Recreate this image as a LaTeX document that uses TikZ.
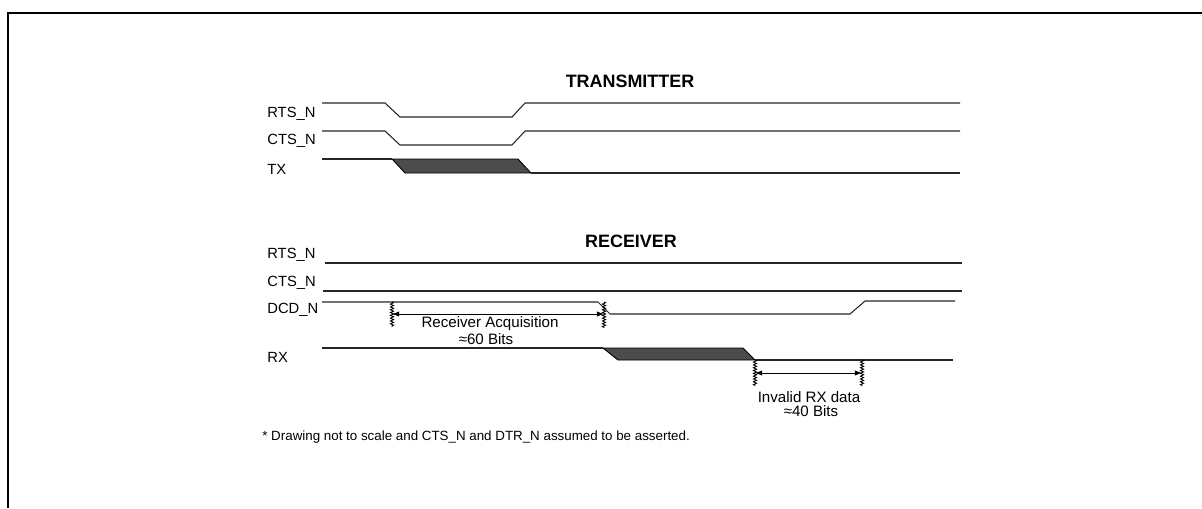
\documentclass[tikz,border=0pt]{standalone}
\usepackage{fontspec}
\setmainfont{Liberation Sans}
\usepackage{tikz}
\usetikzlibrary{arrows.meta,decorations.pathmorphing}

\begin{document}
\begin{tikzpicture}[x=0.02cm,y=-0.02cm]
            \tikzset{
                siglabel/.style={
                    anchor=west,
                    inner sep=0pt,
                    font=\fontsize{8.4}{10}\selectfont
                }
            }
            \tikzset{
                caption/.style={
                    inner sep=0pt,
                    font=\fontsize{8.6}{10}\selectfont
                }
            }
            \tikzset{
                title/.style={
                    inner sep=0pt,
                    font=\bfseries\fontsize{10.2}{12}\selectfont
                }
            }
            \tikzset{
                wave/.style={
                    black!85,
                    line width=0.6pt
                }
            }
            \tikzset{
                burst/.style={
                    draw=black,
                    fill=black!70,
                    line width=0.5pt
                }
            }
            \tikzset{
                tickmark/.style={
                    line width=0.5pt,
                    decorate,
                    decoration={zigzag, segment length=1.6pt, amplitude=0.9pt}
                }
            }
            \tikzset{
                span/.style={
                    {Latex[length=4pt,width=3pt]}-{Latex[length=4pt,width=3pt]},
                    line width=0.5pt
                }
            }

            \useasboundingbox (0,0) rectangle (1202,508);
            \draw[line width=1.2pt] (8,508) -- (8,13) -- (1202,13);

            % transmitter side
            \node[title] (ttitle) at (630,81) {TRANSMITTER};
            \node[siglabel] (trts) at (267,114) {RTS\_N};
            \node[siglabel] (tcts) at (267,141) {CTS\_N};
            \node[siglabel] (ttx) at (267,169) {TX};

            \draw[wave] (322,103) -- (385,103) -- (400,117) -- (512,117) -- (525,103) -- (960,103);
            \draw[wave] (322,131) -- (385,131) -- (400,145) -- (512,145) -- (525,131) -- (960,131);
            \draw[wave] (322,159) -- (392,159);
            \draw[burst] (392,159) -- (518,159) -- (531,173) -- (405,173) -- cycle;
            \draw[wave] (531,173) -- (960,173);

            % receiver side
            \node[title] (rtitle) at (631,241) {RECEIVER};
            \node[siglabel] (rrts) at (267,255) {RTS\_N};
            \node[siglabel] (rcts) at (267,283) {CTS\_N};
            \node[siglabel] (rdcd) at (267,310) {DCD\_N};
            \node[siglabel] (rrx) at (267,357) {RX};

            \draw[wave] (325,263) -- (962,263);
            \draw[wave] (323,291) -- (962,291);
            \draw[wave] (322,302) -- (598,302) -- (610,314) -- (850,314) -- (865,301) -- (955,301);
            \draw[wave] (322,348) -- (603,348);
            \draw[burst] (603,348) -- (743,348) -- (755,360) -- (618,360) -- cycle;
            \draw[wave] (755,360) -- (953,360);

            % acquisition span
            \coordinate (acqL) at (392,314);
            \coordinate (acqR) at (604,314);
            \draw[tickmark] (392,302) -- (392,327);
            \draw[tickmark] (604,302) -- (604,328);
            \draw[span] (acqL) -- (acqR);
            \node[caption] (acqtext) at (490,324) {Receiver Acquisition};
            \node[caption] (acqbits) at (486,339) {≈60 Bits};

            % invalid data span
            \coordinate (invL) at (755,373);
            \coordinate (invR) at (862,373);
            \draw[tickmark] (755,360) -- (755,386);
            \draw[tickmark] (862,360) -- (862,386);
            \draw[span] (invL) -- (invR);
            \node[caption] (invtext) at (809,397) {Invalid RX data};
            \node[caption] (invbits) at (811,411) {≈40 Bits};

            \node[siglabel, font=\fontsize{7.6}{9}\selectfont] (note) at (262,437) {* Drawing not to scale and CTS\_N and DTR\_N assumed to be asserted.};
        \end{tikzpicture}
\end{document}
